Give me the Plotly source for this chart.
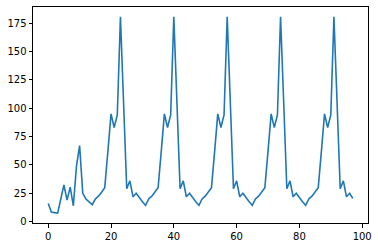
import plotly.graph_objects as go

x_index = list(range(98))
values = [16, 8.5, 8, 7.5, 20, 32.5, 19, 30.5, 14, 49, 67, 25, 20, 17.5, 15, 20, 22.5, 26,
          30, 62, 95, 83, 94, 180.5, 105,
          29, 36, 22, 25, 21, 17.5, 14.5, 20, 22.5, 26, 30, 62, 95, 83, 94, 180.5, 105,
          29, 36, 22, 25, 21, 17.5, 14.5, 20, 22.5, 26, 30, 62, 95, 83, 94, 180.5, 105,
          29, 36, 22, 25, 21, 17.5, 14.5, 20, 22.5, 26, 30, 62, 95, 83, 94, 180.5, 105,
          29, 36, 22, 25, 21, 17.5, 14.5, 20, 22.5, 26, 30, 62, 95, 83, 94, 180.5, 105,
          29, 36, 22, 25, 20.5]

x_ticks = [0, 20, 40, 60, 80, 100]
y_ticks = [0, 25, 50, 75, 100, 125, 150, 175]

fig = go.Figure(go.Scatter(x=x_index, y=values, mode="lines",
                           line=dict(color="#1f77b4", width=1.6)))

axis_common = dict(showline=True, linecolor="black", linewidth=1, mirror=True,
                   ticks="outside", ticklen=3.5, tickwidth=1, tickcolor="black",
                   showgrid=False, zeroline=False,
                   tickfont=dict(family="DejaVu Sans", size=10, color="black"))

fig.update_layout(
    width=378, height=248,
    margin=dict(l=33, r=10, t=6, b=24),
    paper_bgcolor="white", plot_bgcolor="white",
    showlegend=False,
    xaxis=dict(range=[-4.85, 101.85], tickvals=x_ticks, **axis_common),
    yaxis=dict(range=[-1.15, 189.15], tickvals=y_ticks, **axis_common),
)

fig.write_html("out.html")
